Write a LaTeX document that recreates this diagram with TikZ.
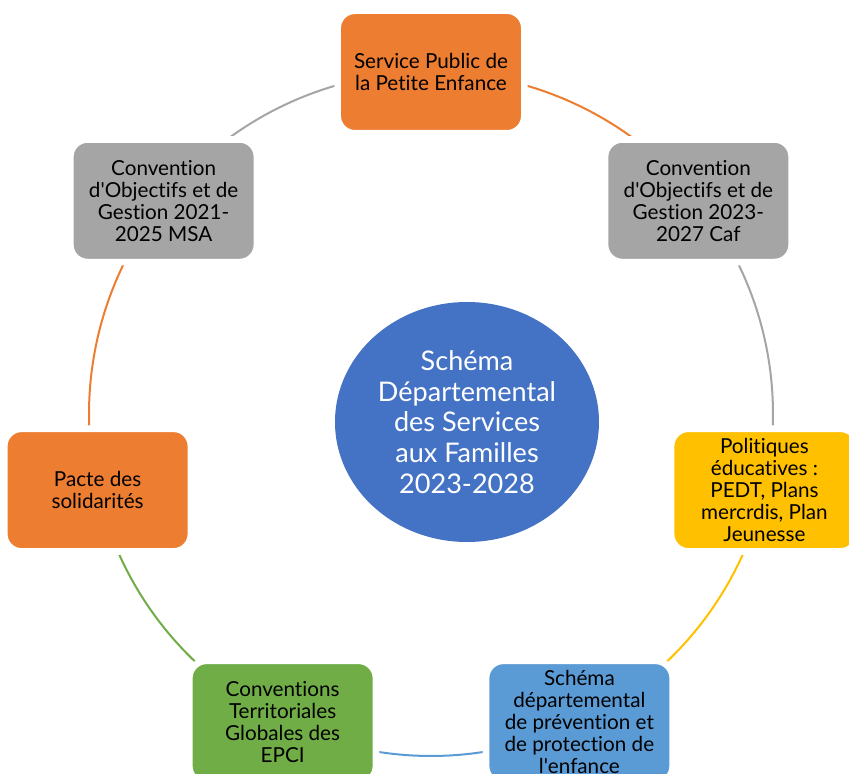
\documentclass[tikz,border=0pt]{standalone}
\usepackage{fontspec}
\setmainfont{Lato}[Ligatures={NoCommon}]
\usetikzlibrary{shapes.geometric,backgrounds}

\definecolor{ringorange}{HTML}{ED7D31}
\definecolor{ringgray}{HTML}{A5A5A5}
\definecolor{ringyellow}{HTML}{FFC000}
\definecolor{ringblue}{HTML}{5B9BD5}
\definecolor{ringgreen}{HTML}{70AD47}
\definecolor{hubblue}{HTML}{4472C4}

\tikzset{
    stage/.style={rectangle, rounded corners=13pt, minimum width=140pt, minimum height=92pt,
        draw=white, line width=5pt, align=center, text=black, inner sep=0pt,
        font=\fontsize{15.5}{16.5}\selectfont},
    hub/.style={ellipse, fill=hubblue, text=white, minimum width=198pt, minimum height=180pt,
        inner sep=0pt, align=center, font=\fontsize{20.3}{23}\selectfont},
    link/.style={line width=1.5pt},
}

\begin{document}
\begin{tikzpicture}
                \useasboundingbox (-323.25pt,-270pt) rectangle (313.5pt,310.5pt);
                % centre
                \node[hub] (sdsf) at (27pt,-6pt)
                    {Schéma\\Départemental\\des Services\\aux Familles\\2023-2028};
                % ring of seven partners, clockwise from the top
                \node[stage,fill=ringorange] (spe) at (90:256.5pt)
                    {Service Public de\\la Petite Enfance};
                \node[stage,fill=ringgray] (caf) at (38.571:256.5pt)
                    {Convention\\d\textquotesingle Objectifs et de\\Gestion 2023-\\2027 Caf};
                \node[stage,fill=ringyellow] (pedt) at (-12.857:256.5pt)
                    {Politiques\\éducatives :\\PEDT, Plans\\mercrdis, Plan\\Jeunesse};
                \node[stage,fill=ringblue] (enf) at (-64.286:256.5pt)
                    {Schéma\\départemental\\de prévention et\\de protection de\\l\textquotesingle enfance};
                \node[stage,fill=ringgreen] (ctg) at (-115.714:256.5pt)
                    {Conventions\\Territoriales\\Globales des\\EPCI};
                \node[stage,fill=ringorange] (pacte) at (-167.143:256.5pt)
                    {Pacte des\\solidarités};
                \node[stage,fill=ringgray] (msa) at (141.429:256.5pt)
                    {Convention\\d\textquotesingle Objectifs et de\\Gestion 2021-\\2025 MSA};
                % arcs behind the boxes
                \begin{pgfonlayer}{background}
                    \foreach \from/\ang/\col in {spe/90/ringorange, caf/38.571/ringgray,
                        pedt/-12.857/ringyellow, enf/-64.286/ringblue, ctg/-115.714/ringgreen,
                        pacte/-167.143/ringorange, msa/141.429/ringgray}
                        \draw[link,\col] (\from.center) arc[start angle=\ang, delta angle=-51.429, radius=256.5pt];
                \end{pgfonlayer}
            \end{tikzpicture}
\end{document}
